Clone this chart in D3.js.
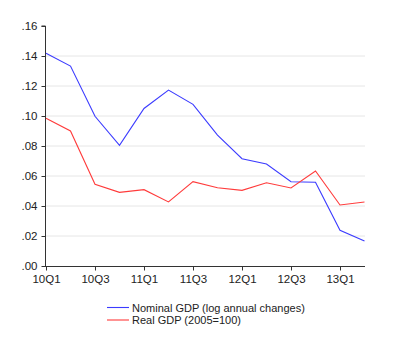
<!DOCTYPE html>
<html lang="en">
<head>
<meta charset="UTF-8"/>
<title>GDP</title>
<script src="https://d3js.org/d3.v7.min.js"></script>
<style>
  body { margin: 0; background: #fff; }
  text { font-family: "Liberation Sans", Arial, sans-serif; fill: #222; }
</style>
</head>
<body>
<div id="chart"></div>
<script>
// quarters 10Q1 .. 13Q2
var quarters = ["10Q1","10Q2","10Q3","10Q4","11Q1","11Q2","11Q3","11Q4",
                "12Q1","12Q2","12Q3","12Q4","13Q1","13Q2"];
var nominal = [0.1418, 0.1333, 0.0998, 0.0805, 0.1050, 0.1173, 0.1078, 0.0873,
               0.0715, 0.0680, 0.0562, 0.0558, 0.0238, 0.0167];
var real = [0.0985, 0.0900, 0.0545, 0.0491, 0.0509, 0.0427, 0.0562, 0.0522,
            0.0504, 0.0555, 0.0520, 0.0633, 0.0407, 0.0427];
var yTicks = [0, 0.02, 0.04, 0.06, 0.08, 0.10, 0.12, 0.14, 0.16];
var xTickIdx = [0, 2, 4, 6, 8, 10, 12];
var seriesNames = ["Nominal GDP (log annual changes)", "Real GDP (2005=100)"];
var seriesColors = ["#3b3bff", "#ff3b3b"];

var width = 400, height = 352;

var svg = d3.select("#chart").append("svg")
  .attr("width", width)
  .attr("height", height);

var x = d3.scaleLinear().domain([0, quarters.length - 1]).range([46, 364.5]);
var y = d3.scaleLinear().domain([0, 0.16]).range([266, 26]);

// grid lines
svg.selectAll("line.grid")
  .data(yTicks.filter(d => d > 0 && d < 0.16))
  .enter().append("line")
  .attr("class", "grid")
  .attr("x1", 46).attr("x2", 365)
  .attr("y1", d => y(d)).attr("y2", d => y(d))
  .attr("stroke", "#e6e6e6")
  .attr("stroke-width", 1);

// y axis
var yAxis = d3.axisLeft(y)
  .tickValues(yTicks)
  .tickSize(4)
  .tickPadding(4)
  .tickFormat(d => d3.format(".2f")(d).replace(/^0/, ""));

var gy = svg.append("g")
  .attr("transform", "translate(45.5,0)")
  .call(yAxis);
gy.select(".domain").attr("stroke", "#333").attr("d", "M-4," + y(0.16) + "H0V" + (y(0) + 0.5));
gy.selectAll(".tick line").attr("stroke", "#333");
gy.selectAll(".tick text").style("font-size", "11.5px").attr("fill", "#1a1a1a");

// x axis
var xAxis = d3.axisBottom(x)
  .tickValues(xTickIdx)
  .tickSize(4)
  .tickPadding(4)
  .tickFormat(i => quarters[i]);

var gx = svg.append("g")
  .attr("transform", "translate(0,266.5)")
  .call(xAxis);
gx.select(".domain").attr("stroke", "#333").attr("d", "M45,0H365");
gx.selectAll(".tick line").attr("stroke", "#333");
gx.selectAll(".tick text").style("font-size", "11.5px").attr("fill", "#1a1a1a");

// lines
var line = d3.line()
  .x((d, i) => x(i))
  .y(d => y(d));

[nominal, real].forEach(function(s, k) {
  svg.append("path")
    .datum(s)
    .attr("d", line)
    .attr("fill", "none")
    .attr("stroke", seriesColors[k])
    .attr("stroke-width", 1.1);
});

// legend
var legend = svg.append("g").attr("transform", "translate(107,307.5)");
seriesNames.forEach(function(name, k) {
  var g = legend.append("g").attr("transform", "translate(0," + (k * 12.5) + ")");
  g.append("line")
    .attr("x1", 0).attr("x2", 22)
    .attr("y1", 0).attr("y2", 0)
    .attr("stroke", seriesColors[k])
    .attr("stroke-width", 1.1);
  g.append("text")
    .attr("x", 25)
    .attr("y", 4)
    .style("font-size", "11px")
    .attr("fill", "#1a1a1a")
    .text(name);
});
</script>
</body>
</html>
